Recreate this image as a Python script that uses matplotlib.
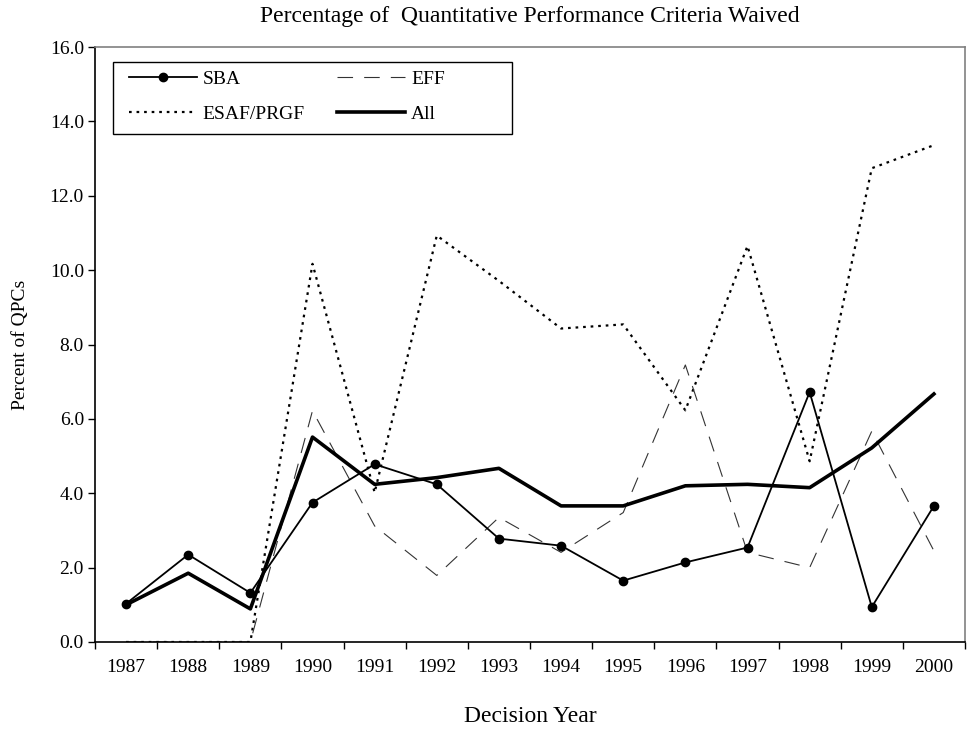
import matplotlib
matplotlib.use("Agg")
import matplotlib.pyplot as plt
from matplotlib.patches import Rectangle
from matplotlib.ticker import FixedLocator, FixedFormatter, FormatStrFormatter

plt.rcParams['font.family'] = ['Liberation Serif', 'DejaVu Serif']

years = ["1987", "1988", "1989", "1990", "1991", "1992", "1993",
         "1994", "1995", "1996", "1997", "1998", "1999", "2000"]
sba = [1.03, 2.35, 1.32, 3.75, 4.78, 4.24, 2.78, 2.59, 1.65, 2.14, 2.54, 6.72, 0.94, 3.66]
eff = [0.0, 0.0, 0.0, 6.22, 3.12, 1.79, 3.35, 2.41, 3.48, 7.45, 2.41, 2.00, 5.67, 2.45]
esaf = [0.0, 0.0, 0.0, 10.17, 4.02, 10.93, 9.71, 8.43, 8.54, 6.23, 10.65, 4.86, 12.74, 13.36]
all_ = [1.00, 1.85, 0.89, 5.51, 4.24, 4.42, 4.67, 3.66, 3.66, 4.20, 4.24, 4.15, 5.22, 6.67]

fig = plt.figure(figsize=(9.77, 7.31), dpi=100)
ax = fig.add_axes([95/977, 1-642/731, 870/977, 595/731])
x = list(range(len(years)))

ax.plot(x, sba, color='black', lw=1.3, marker='o', markersize=6, label='SBA', zorder=4)
ax.plot(x, esaf, color='black', lw=1.6, linestyle=(0, (1.2, 2.2)), label='ESAF/PRGF', zorder=2)
ax.plot(x, eff, color='#333333', lw=0.8, linestyle=(0, (14, 10)), label='EFF', zorder=2)
ax.plot(x, all_, color='black', lw=2.6, label='All', zorder=3)

ax.set_xlim(-0.5, len(years) - 0.5)
ax.set_ylim(0, 16)
ax.set_yticks([0, 2, 4, 6, 8, 10, 12, 14, 16])
ax.yaxis.set_major_formatter(FormatStrFormatter('%.1f'))
ax.xaxis.set_major_locator(FixedLocator([i - 0.5 for i in range(len(years) + 1)]))
ax.xaxis.set_major_formatter(FixedFormatter([''] * (len(years) + 1)))
ax.xaxis.set_minor_locator(FixedLocator(x))
ax.xaxis.set_minor_formatter(FixedFormatter(years))
ax.tick_params(axis='x', which='major', direction='out', length=5, width=1, color='black')
ax.tick_params(axis='x', which='minor', length=0, pad=12, labelsize=14)
ax.tick_params(axis='y', direction='out', length=5, width=1, labelsize=14, pad=3)

for s in ['top', 'right']:
    ax.spines[s].set_color('#808080')
    ax.spines[s].set_linewidth(1.2)
for s in ['left', 'bottom']:
    ax.spines[s].set_color('black')
    ax.spines[s].set_linewidth(1.2)

ax.set_title('Percentage of  Quantitative Performance Criteria Waived', fontsize=17, pad=18)
ax.set_ylabel('Percent of QPCs', fontsize=14, labelpad=15)
ax.set_xlabel('Decision Year', fontsize=17, labelpad=22)

# legend frame
frame = Rectangle((18/870, (642-134)/595), (512-113)/870, 72/595,
                  transform=ax.transAxes, facecolor='white', edgecolor='black',
                  lw=1.0, zorder=5)
ax.add_patch(frame)

handles, labels = ax.get_legend_handles_labels()
leg = ax.legend(handles, labels,
                ncol=2, loc='upper left', bbox_to_anchor=((129-95)/870, (642-70)/595),
                fontsize=14, frameon=False,
                handlelength=3.5, handletextpad=0.3, columnspacing=1.65,
                borderpad=0, borderaxespad=0, labelspacing=0.9)
leg.set_zorder(6)

fig.savefig('out.png', dpi=100)
